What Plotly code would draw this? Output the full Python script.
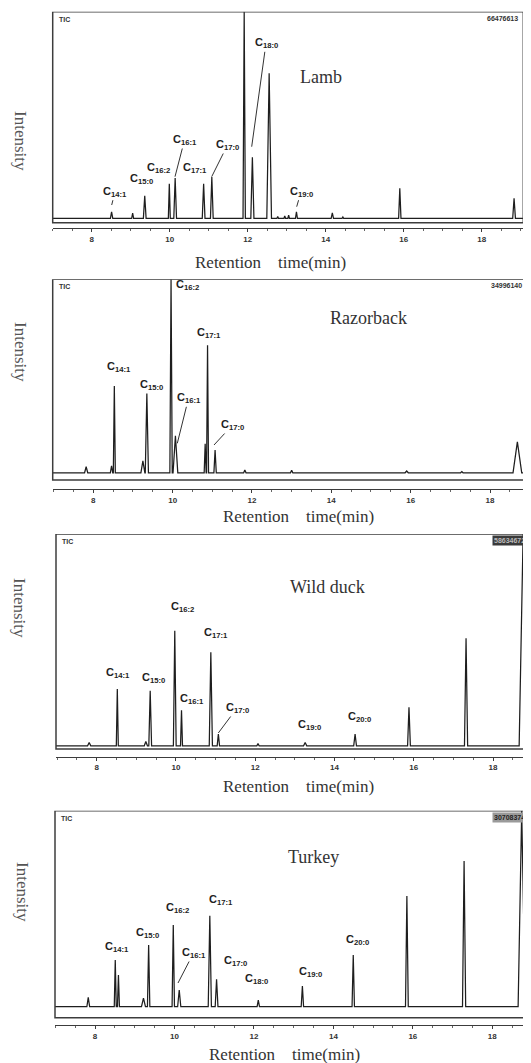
import plotly.graph_objects as go

W, H = 531, 1063
OFF = 8  # default page body margin of the written html

# ---------------- data ----------------
panel_names = ["Lamb", "Razorback", "Wild duck", "Turkey"]
tick_values = [8, 10, 12, 14, 16, 18]
tick_labels = ["8", "10", "12", "14", "16", "18"]
x_title = "Retention    time(min)"
y_title = "Intensity"

# retention time (min), peak height (% of full scale), peak base width (min)
lamb_rt = [8.51, 9.05, 9.36, 9.99, 10.14, 10.87, 11.08, 11.91, 12.12, 12.55,
           12.77, 12.95, 13.05, 13.25, 14.17, 14.44, 15.90, 18.83]
lamb_height = [5.1, 4.6, 12.7, 18.4, 21.2, 18.4, 21.7, 100.0, 31.0, 70.8,
               2.9, 3.2, 3.6, 5.2, 4.7, 2.7, 16.3, 11.6]
lamb_width = [0.06, 0.05, 0.07, 0.05, 0.07, 0.07, 0.07, 0.06, 0.08, 0.12,
              0.04, 0.04, 0.04, 0.05, 0.06, 0.04, 0.06, 0.07]
lamb_baseline = 2.1
lamb_labels = ["C14:1", "C15:0", "C16:2", "C16:1", "C17:1", "C17:0", "C18:0", "C19:0"]
lamb_scale = "66476613"

razor_rt = [7.82, 8.46, 8.53, 9.25, 9.35, 9.96, 10.07, 10.82, 10.88, 11.07,
            11.82, 13.00, 15.90, 17.29, 18.69]
razor_height = [6.6, 7.0, 46.8, 9.5, 43.1, 100.0, 22.0, 18.0, 67.2, 14.9,
                5.0, 4.8, 4.5, 4.2, 19.0]
razor_width = [0.08, 0.06, 0.05, 0.10, 0.08, 0.06, 0.12, 0.05, 0.05, 0.06,
               0.06, 0.06, 0.08, 0.06, 0.22]
razor_baseline = 3.6
razor_labels = ["C14:1", "C15:0", "C16:2", "C16:1", "C17:1", "C17:0"]
razor_scale = "34996140"

duck_rt = [7.81, 8.52, 9.24, 9.35, 9.97, 10.14, 10.88, 11.07, 12.07,
           13.26, 14.52, 15.88, 17.32, 18.76]
duck_height = [3.0, 27.9, 3.5, 27.1, 55.0, 18.0, 45.0, 7.0, 2.5,
               3.0, 7.0, 19.4, 51.5, 100.0]
duck_width = [0.08, 0.05, 0.08, 0.07, 0.07, 0.05, 0.08, 0.06, 0.06,
              0.08, 0.07, 0.07, 0.08, 0.20]
duck_baseline = 1.5
duck_labels = ["C14:1", "C15:0", "C16:2", "C16:1", "C17:1", "C17:0", "C19:0", "C20:0"]
duck_scale = "58634672"

turkey_rt = [7.83, 8.51, 8.59, 9.22, 9.35, 9.97, 10.12, 10.89, 11.06, 12.11,
             13.22, 14.50, 15.85, 17.29, 18.74]
turkey_height = [9.8, 27.9, 20.6, 9.5, 35.1, 44.8, 13.4, 49.2, 18.5, 8.5,
                 15.3, 30.3, 58.8, 75.7, 100.0]
turkey_width = [0.07, 0.05, 0.05, 0.10, 0.06, 0.06, 0.08, 0.08, 0.07, 0.06,
                0.06, 0.06, 0.07, 0.08, 0.18]
turkey_baseline = 5.3
turkey_labels = ["C14:1", "C15:0", "C16:2", "C16:1", "C17:1", "C17:0", "C18:0", "C19:0", "C20:0"]
turkey_scale = "30708374"

series = [
    (lamb_rt, lamb_height, lamb_width, lamb_baseline, lamb_labels, lamb_scale),
    (razor_rt, razor_height, razor_width, razor_baseline, razor_labels, razor_scale),
    (duck_rt, duck_height, duck_width, duck_baseline, duck_labels, duck_scale),
    (turkey_rt, turkey_height, turkey_width, turkey_baseline, turkey_labels, turkey_scale),
]

# ---------------- layout geometry (page pixels) ----------------
GEOM = [
    dict(left=52.7, right=523.3, top=11.7, bottom=222.7, axis=228.3, p8=91.7, p18=481.7,
         title=(321, 77), xtitle=(270, 262), ytitle=(20, 141), dark_scale=None),
    dict(left=52.7, right=526.7, top=279.3, bottom=480.0, axis=489.3, p8=93.3, p18=490.0,
         title=(368, 318), xtitle=(298, 516), ytitle=(21, 352), dark_scale=None),
    dict(left=56.0, right=530.0, top=534.0, bottom=749.0, axis=756.5, p8=96.7, p18=493.0,
         title=(327, 587), xtitle=(298, 786), ytitle=(20, 608), dark_scale=("#3a3a3a", "#bbbbbb")),
    dict(left=55.0, right=530.0, top=810.7, bottom=1017.7, axis=1025.0, p8=95.0, p18=492.3,
         title=(313, 857), xtitle=(284, 1054), ytitle=(23, 892), dark_scale=("#9a9a9a", "#222222")),
]

# label placement: (text center px, optional leader line end px)
LABEL_POS = [
    [((115, 191.7), (111.7, 205)), ((141.5, 179.3), None), ((158, 168.3), None),
     ((184.5, 140), (175, 176.7)), ((195, 168.3), None), ((227.5, 145), (211.7, 176.7)),
     ((266, 43.3), (251.7, 146.7)), ((301, 191.7), (296.7, 206.7))],
    [((119, 366.7), None), ((151, 385), None), ((187, 285), None),
     ((188.5, 398.3), (177.3, 443.3)), ((209, 333.3), None), ((232.5, 425), (214, 445))],
    [((117.5, 672.7), None), ((153.5, 678), None), ((182.5, 606.7), None),
     ((191.5, 699), None), ((216, 632.7), None), ((237, 708), (218.3, 733)),
     ((309, 725), None), ((359, 716.7), None)],
    [((116.5, 946.7), None), ((147.5, 933), None), ((177.5, 908), None),
     ((193.5, 953), (178, 983)), ((221, 900), None), ((235, 960.7), None),
     ((256, 979.3), None), ((310, 971.7), None), ((357.5, 940), None)],
]

SERIF = "Liberation Serif"
SANS = "Liberation Sans"
TRACE_COLOR = "#1e1e1e"
FRAME_COLOR = "#3c3c3c"
FW, FH = W - OFF, H - OFF


def px_x(p):
    return (p - OFF) / FW


def px_y(p):
    return 1 - (p - OFF) / FH


def fmt_label(s):
    return "C<sub>" + s[1:] + "</sub>"


def centered_text(text, cx, cy, font, **kw):
    d = dict(text=text, x=px_x(cx), y=px_y(cy), xref="paper", yref="paper",
             xanchor="center", yanchor="middle", showarrow=False, font=font)
    d.update(kw)
    return d


fig = go.Figure()
layout = dict(width=FW, height=FH, margin=dict(l=0, r=0, t=0, b=0), autosize=False,
              paper_bgcolor="white", plot_bgcolor="white", showlegend=False)
annotations = []
shapes = []

for i, ((rt, hgt, wid, base, labels, scale), g) in enumerate(zip(series, GEOM)):
    n = i + 1
    xa = "x" if n == 1 else f"x{n}"
    ya = "y" if n == 1 else f"y{n}"
    ppm = (g["p18"] - g["p8"]) / 10.0
    x0 = 8 - (g["p8"] - g["left"]) / ppm
    x1 = 18 + (g["right"] - g["p18"]) / ppm
    box_h = g["bottom"] - g["top"]
    y_axis_val = -(g["axis"] - g["bottom"]) / box_h * 100

    # polyline: baseline -> peak start -> apex -> peak end -> ...
    xs, ys = [x0], [base]
    for t, hh, ww in sorted(zip(rt, hgt, wid)):
        xs += [t - ww / 2, t, t + ww / 2]
        ys += [base, hh, base]
    xs.append(x1)
    ys.append(base)

    fig.add_trace(go.Scatter(x=xs, y=ys, mode="lines", xaxis=xa, yaxis=ya,
                             line=dict(color=TRACE_COLOR, width=1.25),
                             hoverinfo="skip"))

    layout["xaxis" if n == 1 else f"xaxis{n}"] = dict(
        domain=[px_x(g["left"]), min(1.0, px_x(g["right"]))], range=[x0, x1], anchor=ya,
        tickvals=tick_values, ticktext=tick_labels, ticks="outside", ticklen=3,
        tickcolor=FRAME_COLOR, showline=True, linecolor=FRAME_COLOR, linewidth=1.2,
        showgrid=False, zeroline=False,
        tickfont=dict(family=SANS, size=8, color="#333", weight="bold"),
        minor=dict(dtick=0.5, tick0=0, ticks="outside", ticklen=2, tickcolor="#666"),
    )
    layout["yaxis" if n == 1 else f"yaxis{n}"] = dict(
        domain=[px_y(g["axis"]), px_y(g["top"])], range=[y_axis_val, 100],
        anchor=xa, visible=False, showgrid=False, zeroline=False,
    )

    # frame box
    shapes.append(dict(type="rect", xref=f"{xa} domain", yref=ya, x0=0, x1=1, y0=0, y1=100,
                       line=dict(color=FRAME_COLOR, width=1.5), layer="above"))

    # TIC and full-scale counts
    annotations.append(dict(text="TIC", x=px_x(g["left"] + 4), y=px_y(g["top"] + 2),
                            xref="paper", yref="paper", xanchor="left", yanchor="top",
                            showarrow=False, font=dict(family=SANS, size=7, color="#333", weight="bold")))
    if g["dark_scale"]:
        bg, fc = g["dark_scale"]
    else:
        bg, fc = "rgba(0,0,0,0)", "#333"
    annotations.append(dict(text=scale, x=px_x(g["right"] - 3), y=px_y(g["top"] + 1),
                            xref="paper", yref="paper", xanchor="right", yanchor="top",
                            showarrow=False, bgcolor=bg, borderpad=1,
                            font=dict(family=SANS, size=7, color=fc, weight="bold")))

    # panel title, axis titles
    annotations.append(centered_text(panel_names[i], *g["title"],
                                     font=dict(family=SERIF, size=18, color="#333")))
    annotations.append(centered_text(x_title, *g["xtitle"],
                                     font=dict(family=SERIF, size=17, color="#333")))
    annotations.append(centered_text(y_title, *g["ytitle"], textangle=90,
                                     font=dict(family=SERIF, size=17, color="#555")))

    # peak labels
    lab_font = dict(family=SANS, size=11, color="#222", weight="bold")
    for lab, (center, tip) in zip(labels, LABEL_POS[i]):
        if tip is None:
            annotations.append(centered_text(fmt_label(lab), *center, font=lab_font))
        else:
            annotations.append(dict(text=fmt_label(lab), x=px_x(tip[0]), y=px_y(tip[1]),
                                    xref="paper", yref="paper", showarrow=True,
                                    xanchor="center", yanchor="middle",
                                    ax=center[0] - tip[0], ay=center[1] - tip[1],
                                    arrowhead=0, arrowwidth=1, arrowcolor="#333",
                                    font=lab_font))

layout["annotations"] = annotations
layout["shapes"] = shapes
fig.update_layout(**layout)
fig.write_html("out.html")
